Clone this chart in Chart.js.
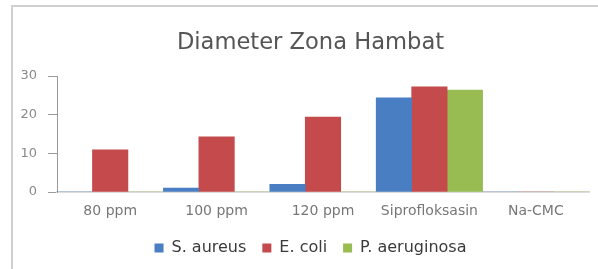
<!DOCTYPE html>
<html>
<head>
<meta charset="utf-8">
<script src="https://cdn.jsdelivr.net/npm/chart.js@4.4.0/dist/chart.umd.min.js"></script>
<style>
  html, body { margin: 0; padding: 0; background: #fff; }
  #wrap { position: relative; width: 598px; height: 269px; overflow: hidden; }
  #frame {
    position: absolute; left: 11px; top: 5px; width: 600px; height: 300px;
    border-top: 2px solid #d0d0d0; border-left: 2px solid #d0d0d0;
  }
  canvas { position: absolute; left: 0; top: 0; }
</style>
</head>
<body>
<div id="wrap">
  <div id="frame"></div>
  <canvas id="chart" width="598" height="269"></canvas>
</div>
<script>
// Dados
const categorias = ['80 ppm', '100 ppm', '120 ppm', 'Siprofloksasin', 'Na-CMC'];
const sAureus = [0, 1, 2, 24.4, 0];
const eColi = [10.9, 14.3, 19.4, 27.2, 0];
const pAeruginosa = [0, 0, 0, 26.4, 0];
const ticksY = [0, 10, 20, 30];

const fonte = '"DejaVu Sans", Verdana, sans-serif';

const ctx = document.getElementById('chart').getContext('2d');
const chart = new Chart(ctx, {
    type: 'bar',
    data: {
        labels: categorias,
        datasets: [
            { label: 'S. aureus', data: sAureus, backgroundColor: '#4a7ec2' },
            { label: 'E. coli', data: eColi, backgroundColor: '#c44a4c' },
            { label: 'P. aeruginosa', data: pAeruginosa, backgroundColor: '#98bb52' }
        ]
    },
    options: {
        responsive: false,
        animation: false,
        layout: { padding: { left: 32, right: 9, top: 0, bottom: 3 } },
        datasets: {
            bar: { categoryPercentage: 1, barPercentage: 1 }
        },
        plugins: {
            title: {
                display: true,
                text: 'Diameter Zona Hambat',
                color: '#555',
                font: { family: fonte, size: 22.6, weight: 'normal' },
                padding: { top: 30, bottom: 19 }
            },
            legend: {
                position: 'bottom',
                labels: {
                    boxWidth: 9,
                    boxHeight: 9,
                    color: '#3a3a3a',
                    padding: 16,
                    font: { family: fonte, size: 16 }
                }
            },
            tooltip: { enabled: false }
        },
        scales: {
            x: {
                grid: { display: false, drawTicks: false },
                border: { display: true, color: '#dcdcdc', width: 2 },
                ticks: { color: '#777', padding: 11, font: { family: fonte, size: 14 } },
                afterFit: function(scale) { scale.height = 32; }
            },
            y: {
                min: 0,
                max: 30,
                afterBuildTicks: function(scale) {
                    scale.ticks = ticksY.map(v => ({ value: v }));
                },
                grid: { drawOnChartArea: false, tickLength: 9, color: '#9a9a9a', tickWidth: 1 },
                border: { display: true, color: '#9a9a9a', width: 1 },
                ticks: { color: '#8a8a8a', padding: 11, font: { family: fonte, size: 13 } },
                afterFit: function(scale) {
                    scale.width = 25;
                    // os rótulos ficam à esquerda da caixa do eixo: não recortar
                    scale._computeLabelArea = function() { return undefined; };
                }
            }
        }
    }
});
</script>
</body>
</html>
